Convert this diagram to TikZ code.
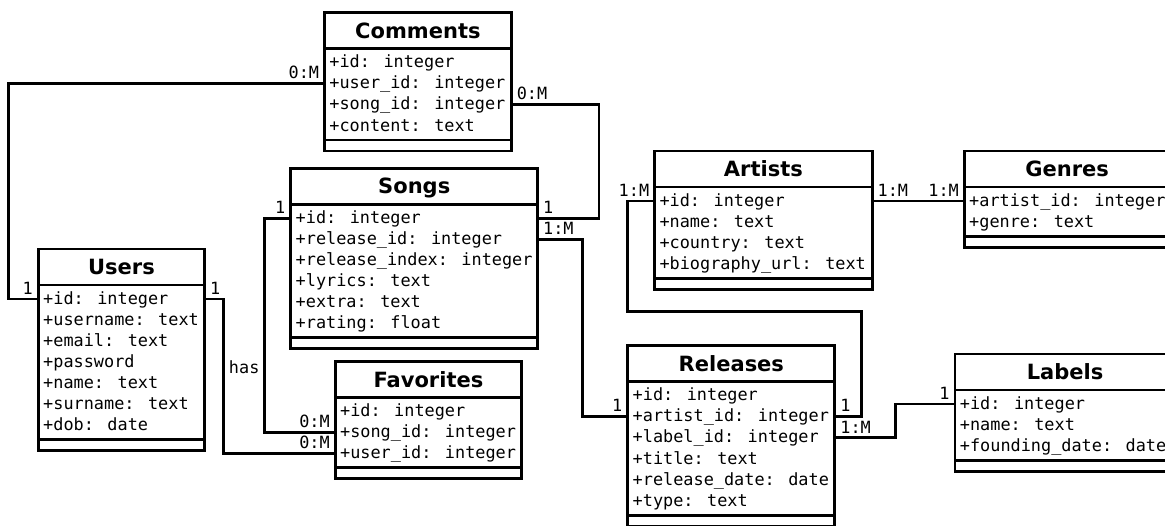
\documentclass[tikz,border=0pt]{standalone}
\usepackage{fontspec}
\setmainfont{DejaVu Sans}
\newfontfamily\monofont{DejaVu Sans Mono}

\tikzset{
  x=0.5pt, y=-0.5pt,
  frame/.style={draw, line width=1.45pt, inner sep=0pt, outer sep=0pt, anchor=north west},
  rule/.style={line width=1.45pt},
  title/.style={font=\fontsize{10.5}{12}\selectfont\bfseries, anchor=base, inner sep=0pt},
  attr/.style={font=\monofont\fontsize{8.43}{10}\selectfont, anchor=base west, inner sep=0pt},
  link/.style={line width=1.45pt},
  mult/.style={font=\monofont\fontsize{8.43}{10}\selectfont, inner sep=0pt},
  multL/.style={mult, anchor=south east, xshift=-2pt, yshift=1.7pt},
  multR/.style={mult, anchor=south west, xshift=2pt, yshift=1.7pt},
  hasnote/.style={mult, anchor=west, xshift=1.8pt},
}

% #1 name, #2 left, #3 right, #4 top, #5 number of rows, #6 title, #7 rows
\newcommand\entity[7]{%
  \node[frame, minimum width={(#3-#2)*0.5pt}, minimum height={(53.9+21.1*#5)*0.5pt}] (#1) at (#2,#4) {};
  \draw[rule] (#2,{#4+36}) -- (#3,{#4+36});
  \draw[rule] (#2,{#4+64+21.1*(#5-1)}) -- (#3,{#4+64+21.1*(#5-1)});
  \node[title] (#1-title) at ({(#2+#3)/2},{#4+25.4}) {#6};
  \foreach \rowtext [count=\i] in {#7} {
    \coordinate (#1-\i) at (#2,{#4+50+21.1*(\i-1)});
    \node[attr] (#1-\i-text) at ({#2+4.5},{#4+55+21.1*(\i-1)}) {\rowtext};
  }%
}

\begin{document}
\begin{tikzpicture}
\clip (0,0) rectangle (1165,525);

\entity{comments}{324.5}{511.3}{12.7}{4}{Comments}
  {+id: integer,+user\_id: integer,+song\_id: integer,+content: text}
\entity{songs}{290.8}{537.7}{168.3}{6}{Songs}
  {+id: integer,+release\_id: integer,+release\_index: integer,+lyrics: text,+extra: text,+rating: float}
\entity{users}{38.3}{204.7}{249}{7}{Users}
  {+id: integer,+username: text,+email: text,+password,+name: text,+surname: text,+dob: date}
\entity{favorites}{335.2}{521.6}{361.7}{3}{Favorites}
  {+id: integer,+song\_id: integer,+user\_id: integer}
\entity{artists}{654.6}{872.2}{151}{4}{Artists}
  {+id: integer,+name: text,+country: text,+biography\_url: text}
\entity{genres}{964.3}{1170}{151}{2}{Genres}
  {+artist\_id: integer,+genre: text}
\entity{releases}{627.8}{834.9}{345.7}{6}{Releases}
  {+id: integer,+artist\_id: integer,+label\_id: integer,+title: text,+release\_date: date,+type: text}
\entity{labels}{955}{1175}{354}{3}{Labels}
  {+id: integer,+name: text,+founding\_date: date}

% Users -- Comments
\draw[link] (users.west |- users-1) node[multL] {1} -- ++(-29.9,0)
  |- (comments.west |- comments-2) node[multL] {0:M};
% Comments -- Songs
\draw[link] (comments.east |- comments-3) node[multR] {0:M} -- ++(87.7,0)
  |- (songs.east |- songs-1) node[multR] {1};
% Songs -- Releases
\draw[link] (songs.east |- songs-2) node[multR] {1:M} -- ++(44.8,0)
  |- (releases.west |- releases-2) node[multL] {1};
% Songs -- Favorites
\draw[link] (songs.west |- songs-1) node[multL] {1} -- ++(-26,0)
  |- (favorites.west |- favorites-2) node[multL] {0:M};
% Users -- Favorites
\draw[link] (users.east |- users-1) node[multR] {1} -- ++(19.2,0)
  |- node[pos=0.22, hasnote] {has} (favorites.west |- favorites-3) node[multL] {0:M};
% Artists -- Releases
\draw[link] (artists.west |- artists-1) node[multL] {1:M} -- ++(-26.8,0) -- ++(0,110.6)
  -- ++(233.9,0) |- (releases.east |- releases-2) node[multR] {1};
% Artists -- Genres
\draw[link] (artists.east |- artists-1) node[multR] {1:M}
  -- (genres.west |- genres-1) node[multL] {1:M};
% Releases -- Labels
\draw[link] (releases.east |- releases-3) node[multR] {1:M} -- ++(60.4,0)
  |- (labels.west |- labels-1) node[multL] {1};
\end{tikzpicture}
\end{document}
